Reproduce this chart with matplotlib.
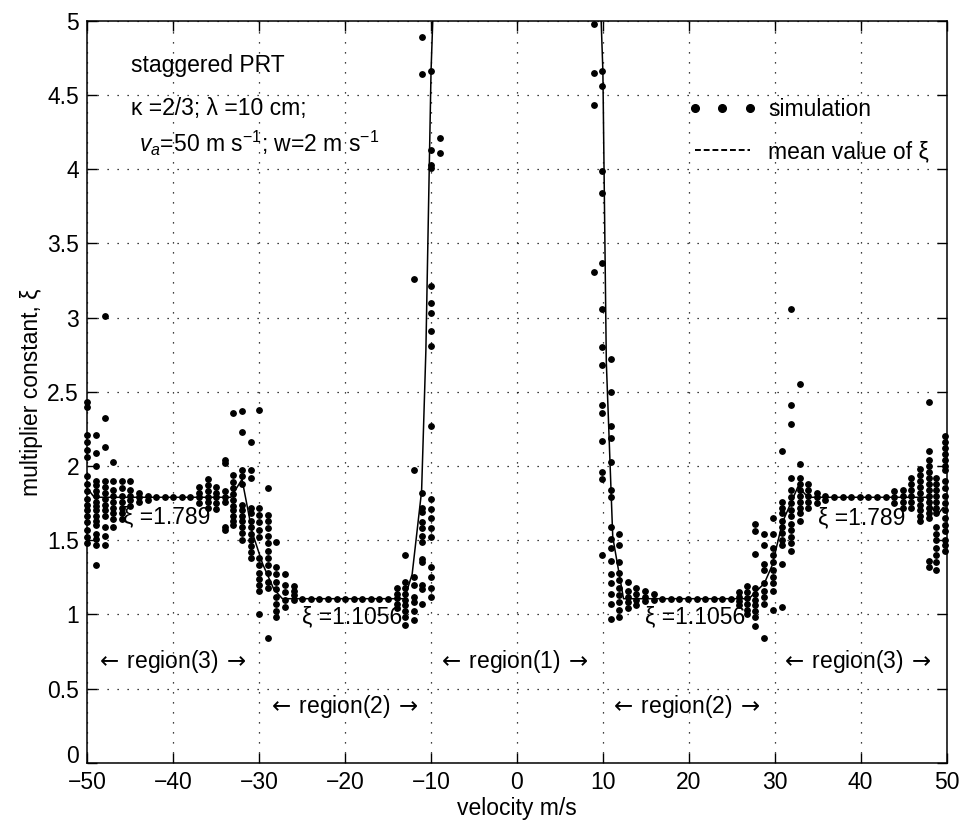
import matplotlib
matplotlib.use('Agg')
import matplotlib.pyplot as plt
from matplotlib.lines import Line2D
import numpy as np

plt.rcParams['font.family'] = ['Liberation Sans', 'DejaVu Sans']
plt.rcParams['mathtext.fontset'] = 'custom'
plt.rcParams['mathtext.rm'] = 'Liberation Sans'
plt.rcParams['mathtext.it'] = 'Liberation Sans:italic'
plt.rcParams['mathtext.sf'] = 'Liberation Sans'

# simulated multiplier constant, one column of points per velocity (m/s)
sim_v = [-50, -49, -48, -47, -46, -45, -44, -43, -42, -41, -40, -39, -38,
         -37, -36, -35, -34, -33, -32, -31, -30, -29, -28, -27, -26,
         -25, -24, -23, -22, -21, -20, -19, -18, -17, -16, -15,
         -14, -13, -12, -11, -10, -8.9,
         9.0, 9.9, 10.9, 11.9, 12.9, 13.9, 14.9, 15.9,
         16.9, 17.9, 18.9, 19.9, 20.9, 21.9, 22.9, 23.9, 24.9,
         25.9, 26.8, 27.7, 28.8, 29.8, 30.9, 31.9, 32.9, 33.9, 34.9, 35.9,
         36.9, 37.9, 38.9, 39.9, 40.9, 41.9, 42.9,
         43.9, 44.9, 45.9, 46.9, 47.9, 48.8, 49.8]

sim_xi = [
    [2.43, 2.40, 2.21, 2.16, 2.11, 2.06, 1.93, 1.88, 1.83, 1.78, 1.74, 1.70, 1.66, 1.62, 1.57, 1.52, 1.48],
    [2.21, 2.09, 2.00, 1.90, 1.87, 1.83, 1.80, 1.76, 1.73, 1.70, 1.66, 1.63, 1.60, 1.54, 1.51, 1.47, 1.33],
    [3.01, 2.32, 2.13, 1.90, 1.86, 1.82, 1.78, 1.74, 1.70, 1.66, 1.59, 1.53, 1.47],
    [2.03, 1.90, 1.84, 1.80, 1.76, 1.72, 1.68, 1.64, 1.59],
    [1.90, 1.85, 1.80, 1.76, 1.72, 1.68, 1.64],
    [1.90, 1.84, 1.80, 1.77, 1.73],
    [1.82, 1.79, 1.76],
    [1.80, 1.77],
    [1.789], [1.789], [1.789], [1.789], [1.789],
    [1.86, 1.82, 1.79, 1.75],
    [1.91, 1.87, 1.83, 1.79, 1.76, 1.72],
    [1.86, 1.82, 1.79, 1.75, 1.71],
    [2.04, 2.02, 1.83, 1.79, 1.76, 1.59, 1.57],
    [2.36, 1.94, 1.89, 1.85, 1.81, 1.77, 1.73, 1.70, 1.66, 1.63, 1.60],
    [2.37, 2.23, 1.97, 1.93, 1.88, 1.74, 1.70, 1.66, 1.63, 1.59, 1.55, 1.50],
    [2.16, 1.97, 1.92, 1.72, 1.68, 1.63, 1.59, 1.54, 1.50, 1.46, 1.42, 1.38],
    [2.38, 1.72, 1.67, 1.62, 1.57, 1.52, 1.38, 1.33, 1.28, 1.24, 1.20, 1.16, 1.00],
    [1.85, 1.67, 1.63, 1.58, 1.53, 1.48, 1.43, 1.38, 1.33, 1.28, 1.22, 1.18, 0.84],
    [1.49, 1.32, 1.27, 1.22, 1.17, 1.12, 1.07, 1.02, 0.98],
    [1.27, 1.20, 1.15, 1.10, 1.05],
    [1.19, 1.16, 1.13, 1.10],
    [1.1056], [1.1056], [1.1056], [1.1056], [1.1056], [1.1056],
    [1.1056], [1.1056], [1.1056], [1.1056], [1.1056],
    [1.18, 1.14, 1.11, 1.07, 1.04],
    [1.40, 1.22, 1.18, 1.14, 1.10, 1.06, 1.02, 0.98, 0.93],
    [3.26, 1.97, 1.25, 1.20, 1.12, 1.08, 1.02, 0.96],
    [4.89, 4.64, 1.82, 1.72, 1.69, 1.62, 1.58, 1.53, 1.49, 1.37, 1.35, 1.20, 1.17, 1.07],
    [4.66, 4.13, 4.03, 4.01, 3.21, 3.10, 3.03, 2.91, 2.81, 2.27, 1.78, 1.71, 1.65, 1.58, 1.52, 1.32, 1.25, 1.18, 1.12],
    [4.21, 4.11],
    [4.98, 4.65, 4.43, 3.31],
    [4.66, 4.56, 3.99, 3.84, 3.37, 3.06, 2.80, 2.68, 2.41, 2.36, 2.17, 1.96, 1.91, 1.40],
    [2.72, 2.50, 2.27, 2.19, 2.03, 1.84, 1.79, 1.59, 1.51, 1.45, 1.36, 1.27, 1.21, 1.14, 1.07, 0.97],
    [1.54, 1.47, 1.35, 1.28, 1.23, 1.18, 1.13, 1.08, 1.03, 0.98],
    [1.22, 1.16, 1.12, 1.08, 1.04],
    [1.18, 1.14, 1.10, 1.06],
    [1.16, 1.12, 1.09],
    [1.14, 1.10],
    [1.1056], [1.1056], [1.1056], [1.1056], [1.1056],
    [1.1056], [1.1056], [1.1056], [1.1056],
    [1.15, 1.12, 1.09, 1.06],
    [1.19, 1.15, 1.11, 1.07, 1.03, 1.00],
    [1.61, 1.56, 1.41, 1.18, 1.14, 1.10, 1.06, 1.02, 0.98, 0.92],
    [1.54, 1.47, 1.34, 1.30, 1.21, 1.16, 1.12, 1.07, 0.84],
    [1.65, 1.54, 1.45, 1.40, 1.35, 1.30, 1.25, 1.21, 1.16, 1.03],
    [2.10, 1.76, 1.72, 1.68, 1.63, 1.59, 1.55, 1.50, 1.47, 1.34, 1.05],
    [3.06, 2.41, 2.28, 1.92, 1.84, 1.79, 1.75, 1.70, 1.66, 1.61, 1.57, 1.52, 1.48, 1.43],
    [2.55, 2.01, 1.92, 1.88, 1.84, 1.80, 1.76, 1.72, 1.68, 1.63],
    [1.88, 1.84, 1.80, 1.76, 1.72],
    [1.82, 1.79, 1.75],
    [1.80, 1.77],
    [1.789], [1.789], [1.789], [1.789], [1.789], [1.789], [1.789],
    [1.83, 1.79, 1.75],
    [1.84, 1.80, 1.76, 1.72],
    [1.92, 1.88, 1.84, 1.80, 1.76, 1.72],
    [1.98, 1.94, 1.90, 1.86, 1.82, 1.78, 1.74, 1.70, 1.66, 1.63],
    [2.43, 2.10, 2.04, 2.00, 1.96, 1.92, 1.88, 1.84, 1.80, 1.76, 1.72, 1.68, 1.65, 1.36, 1.32],
    [1.92, 1.88, 1.84, 1.80, 1.76, 1.72, 1.68, 1.59, 1.54, 1.50, 1.45, 1.40, 1.35, 1.30],
    [2.20, 2.16, 2.12, 2.08, 2.04, 2.00, 1.97, 1.90, 1.85, 1.80, 1.75, 1.70, 1.65, 1.60, 1.56, 1.50, 1.47, 1.43],
]

# mean value of xi, negative and positive velocity branches
mean_v_neg = [-50, -49.2, -33.3, -32.0, -30.8, -29.6, -28.3, -27.3, -13.1, -12.2, -11.1, -10.6, -10.0, -9.8]
mean_xi_neg = [1.85, 1.789, 1.789, 1.91, 1.55, 1.34, 1.17, 1.1056, 1.1056, 1.27, 1.83, 2.78, 4.66, 5.0]
mean_v_pos = [9.8, 10.0, 10.4, 11.15, 12.4, 27.0, 28.8, 29.7, 30.9, 32.7, 33.9, 47.7, 48.5, 49.0, 49.6, 50]
mean_xi_pos = [5.0, 4.66, 2.70, 1.52, 1.1056, 1.1056, 1.21, 1.33, 1.62, 1.86, 1.789, 1.789, 1.70, 1.675, 1.72, 1.70]

xticks = [-50, -40, -30, -20, -10, 0, 10, 20, 30, 40, 50]
yticks = [0, 0.5, 1, 1.5, 2, 2.5, 3, 3.5, 4, 4.5, 5]
ytick_labels = ['0', '0.5', '1', '1.5', '2', '2.5', '3', '3.5', '4', '4.5', '5']

region_labels = [r'$\leftarrow\,$region(3)$\,\rightarrow$', r'$\leftarrow\,$region(2)$\,\rightarrow$',
                 r'$\leftarrow\,$region(1)$\,\rightarrow$', r'$\leftarrow\,$region(2)$\,\rightarrow$',
                 r'$\leftarrow\,$region(3)$\,\rightarrow$']

fs = 16.5

fig = plt.figure(figsize=(9.6, 8.3), dpi=100)
ax = fig.add_axes([0.091, 0.081, 0.895, 0.894])

x = np.concatenate([np.full(len(c), v) for v, c in zip(sim_v, sim_xi)])
y = np.concatenate(sim_xi)
ax.plot(x, y, 'o', ms=3.9, color='k', mec='k', zorder=4, clip_on=False)
ax.plot(mean_v_neg, mean_xi_neg, '-', color='k', lw=1.1, zorder=3)
ax.plot(mean_v_pos, mean_xi_pos, '-', color='k', lw=1.1, zorder=3)

ax.set_xlim(-50, 50)
ax.set_ylim(0, 5)
ax.set_xticks(xticks)
ax.set_yticks(yticks)
ax.set_yticklabels(ytick_labels)
ax.grid(True, color='k', linestyle=(0, (1, 7)), lw=0.9)
ax.set_axisbelow(True)
ax.tick_params(direction='in', top=True, right=True, length=7, width=1, pad=6, labelsize=fs)
for s in ax.spines.values():
    s.set_linewidth(1.1)
# lift the "0" label a little so it clears the -50 below it
ax.get_yticklabels()[0].set_verticalalignment('baseline')

ax.set_xlabel('velocity m/s', fontsize=fs, labelpad=2)
ax.set_ylabel('multiplier constant, ξ', fontsize=fs, labelpad=3)

# annotations
ax.text(-44.9, 4.70, 'staggered PRT', fontsize=fs, va='center', zorder=2)
ax.text(-44.9, 4.41, 'κ =2/3; λ =10 cm;', fontsize=fs, va='center', zorder=2)
ax.text(-44.0, 4.17, r'$v_a$=50 m s$^{-1}$; w=2 m s$^{-1}$', fontsize=fs, va='center', zorder=2)

ax.text(-45.9, 1.655, 'ξ =1.789', fontsize=fs, va='center', zorder=2)
ax.text(35.05, 1.65, 'ξ =1.789', fontsize=fs, va='center', zorder=2)
ax.text(-25.0, 0.985, 'ξ =1.1056', fontsize=fs, va='center', zorder=2)
ax.text(14.85, 0.985, 'ξ =1.1056', fontsize=fs, va='center', zorder=2)

for lab, xc, yc in zip(region_labels, [-40.3, -20.3, -0.45, 19.5, 39.4], [0.685, 0.38, 0.685, 0.38, 0.685]):
    ax.text(xc, yc, lab, fontsize=fs, ha='center', va='center', zorder=2,
            math_fontfamily='dejavusans')

h_sim = Line2D([], [], ls='none', marker='o', ms=5.5, color='k')
h_mean = Line2D([], [], ls=(0, (3, 1.5)), lw=1.4, color='k')
ax.legend([h_sim, h_mean], ['simulation', 'mean value of ξ'], loc='upper left',
          bbox_to_anchor=(0.699, 0.896), frameon=False, numpoints=3, fontsize=fs,
          handlelength=3.0, handletextpad=0.5, labelspacing=0.85, borderpad=0,
          borderaxespad=0)

fig.savefig('out.png', dpi=100)
